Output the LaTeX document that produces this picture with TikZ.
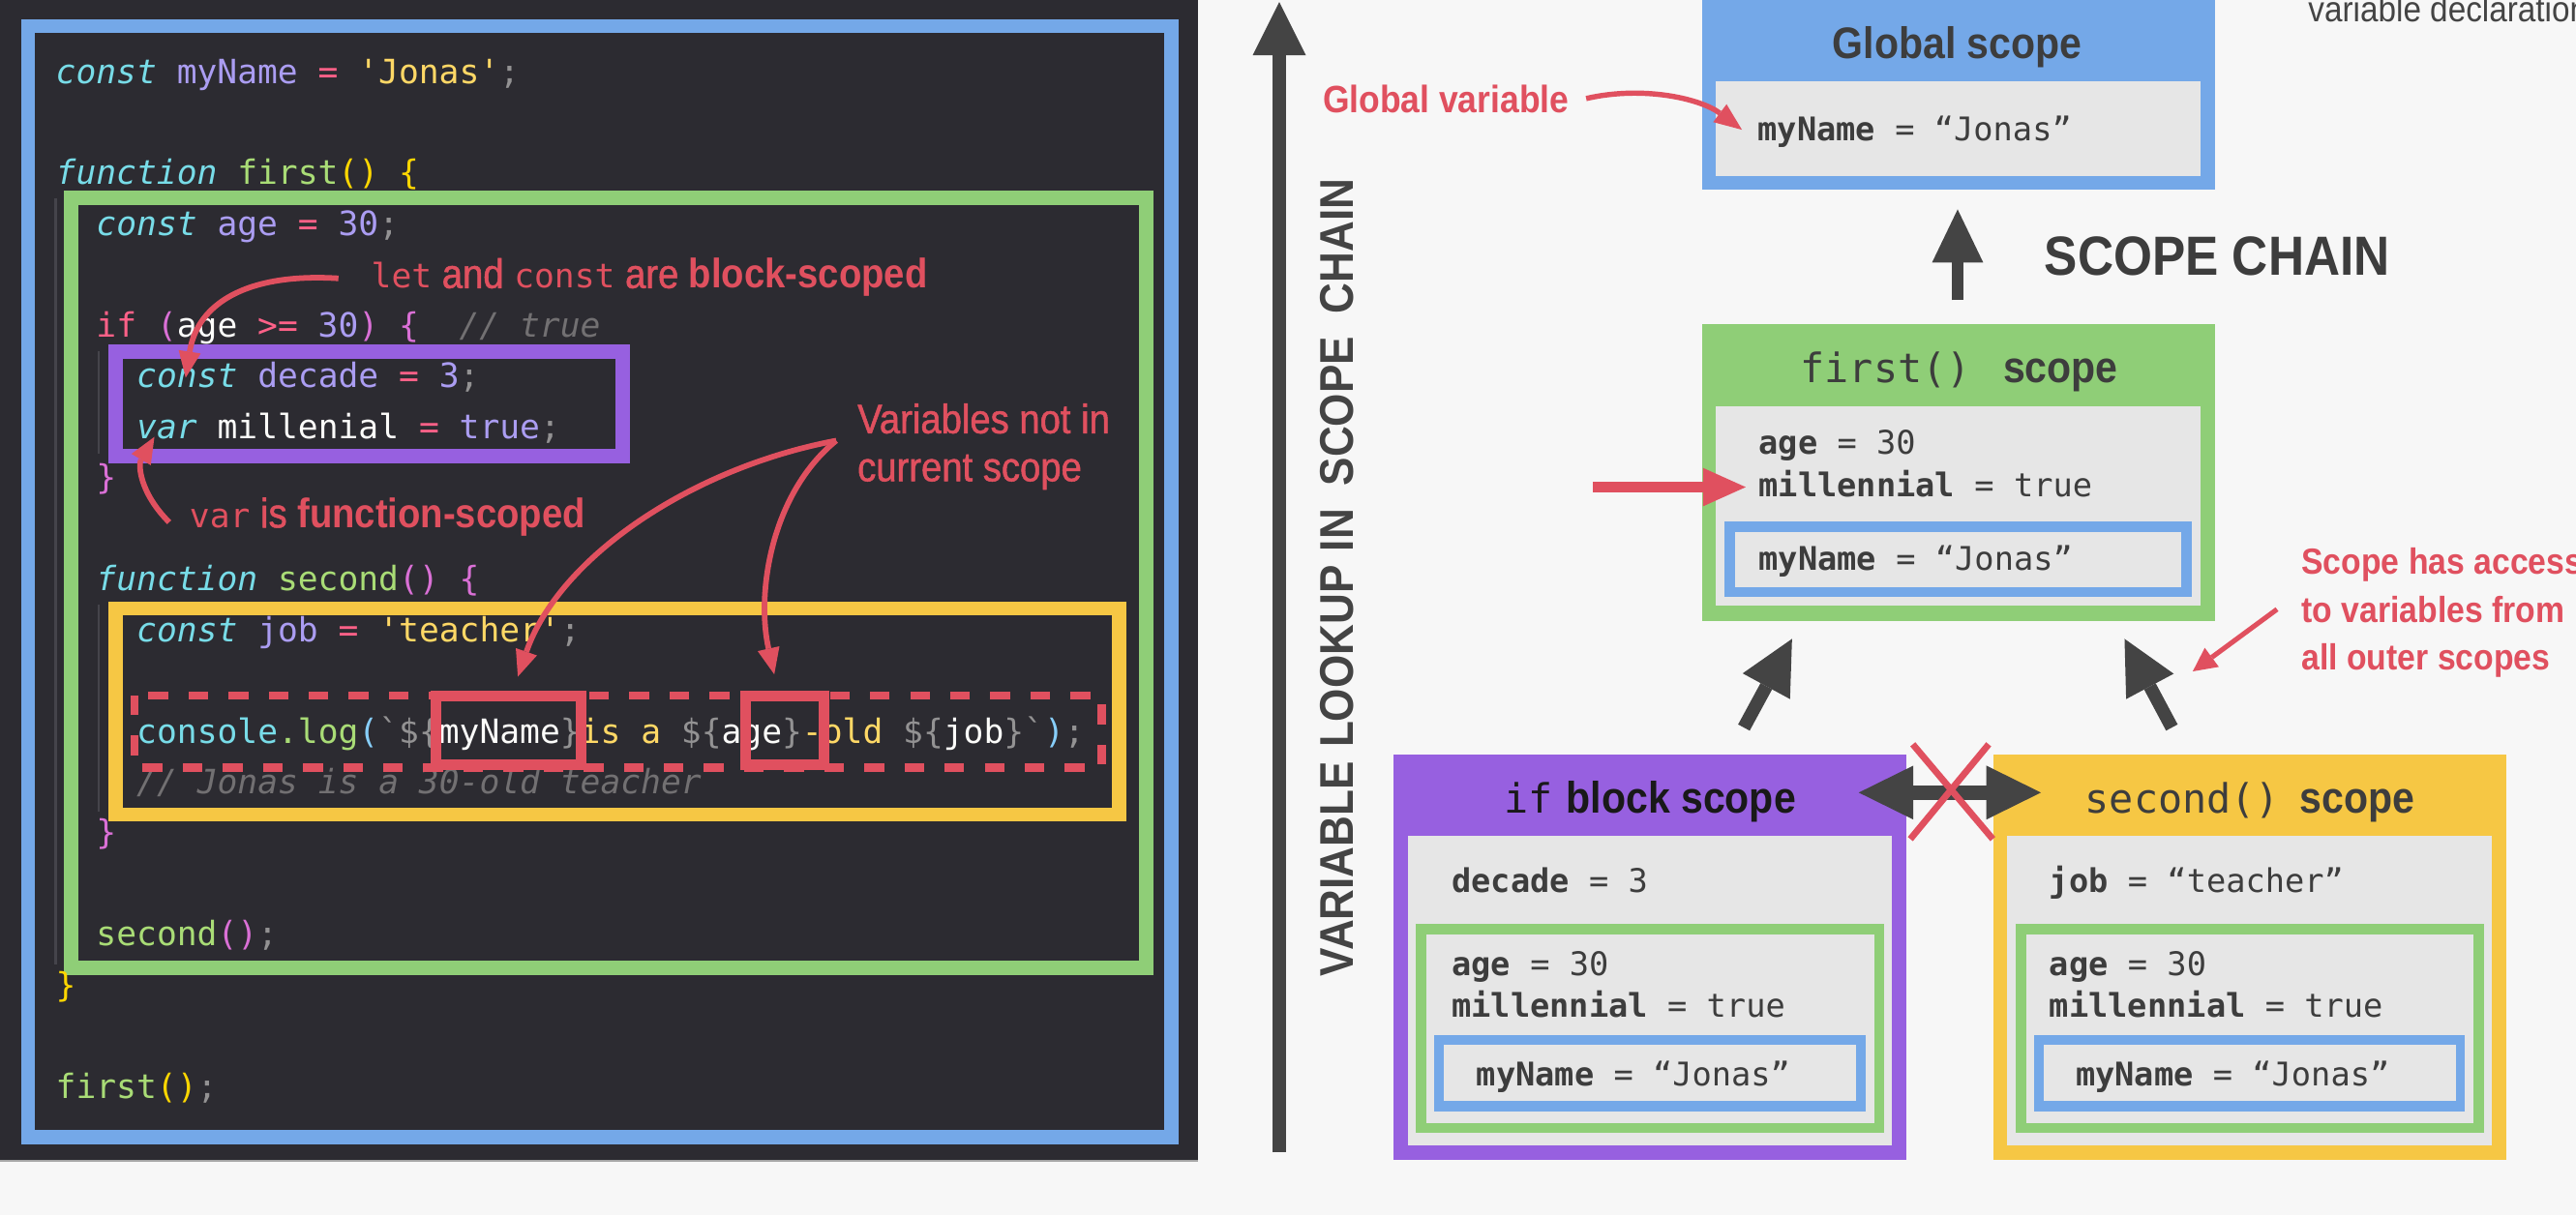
\documentclass[tikz,border=0pt]{standalone}
\usepackage{fontspec}
\setmainfont{Liberation Sans}
\setmonofont{DejaVu Sans Mono}
\newfontfamily\rob[FakeStretch=0.9]{Liberation Sans}
\newfontfamily\robm[FakeStretch=0.9,FakeBold=1.2]{Liberation Sans}
\usetikzlibrary{arrows.meta}
\definecolor{bgdark}{HTML}{2C2B31}
\definecolor{bglight}{HTML}{F7F7F7}
\definecolor{cblue}{HTML}{74A8E8}
\definecolor{cgreen}{HTML}{8FCE77}
\definecolor{cpurple}{HTML}{9760E0}
\definecolor{cyellow}{HTML}{F6C744}
\definecolor{cred}{HTML}{E0505F}
\definecolor{cgray}{HTML}{E6E6E6}
\definecolor{cdark}{HTML}{444444}
\definecolor{chdr}{HTML}{3D3D3D}
\definecolor{guide}{HTML}{45444B}
\definecolor{ckw}{HTML}{78DCE8}
\definecolor{cvr}{HTML}{AB9DF2}
\definecolor{cop}{HTML}{FF6188}
\definecolor{cst}{HTML}{FFD866}
\definecolor{cfn}{HTML}{A9DC76}
\definecolor{cpu}{HTML}{939293}
\definecolor{ccm}{HTML}{727072}
\definecolor{cwh}{HTML}{FCFCFA}
\definecolor{cgold}{HTML}{FFD700}
\definecolor{corc}{HTML}{DA70D6}
\definecolor{csky}{HTML}{87CEFA}
\newcommand\fsz[1]{\fontsize{#1}{#1}\selectfont}
\newcommand\kKw[1]{\textcolor{ckw}{\itshape #1}}
\newcommand\kCy[1]{\textcolor{ckw}{#1}}
\newcommand\kVr[1]{\textcolor{cvr}{#1}}
\newcommand\kOp[1]{\textcolor{cop}{#1}}
\newcommand\kSt[1]{\textcolor{cst}{#1}}
\newcommand\kFn[1]{\textcolor{cfn}{#1}}
\newcommand\kPu[1]{\textcolor{cpu}{#1}}
\newcommand\kCm[1]{\textcolor{ccm}{\itshape #1}}
\newcommand\kWh[1]{\textcolor{cwh}{#1}}
\newcommand\kGo[1]{\textcolor{cgold}{#1}}
\newcommand\kOr[1]{\textcolor{corc}{#1}}
\newcommand\kSk[1]{\textcolor{csky}{#1}}
\newcommand\kMono[1]{{\ttfamily\fsz{14.5pt}#1}}
\newcommand\kBold[1]{{\rob\bfseries #1}}
\begin{document}
\begin{tikzpicture}[x=0.025cm,y=-0.025cm,
  codeline/.style={anchor=base west, inner sep=0pt, outer sep=0pt, font=\ttfamily\fsz{14.5pt}, text=cwh},
  note/.style={anchor=base west, inner sep=0pt, outer sep=0pt, text=cred, font=\robm\fsz{17.8pt}},
  hdr/.style={anchor=base, inner sep=0pt, outer sep=0pt, text=chdr},
  varline/.style={anchor=base west, inner sep=0pt, outer sep=0pt, font=\ttfamily\fsz{14.1pt}, text=chdr},
  redbox/.style={draw=cred, line width=0.165cm},
  dashbox/.style={draw=cred, line width=0.125cm, dash pattern=on 0.3cm off 0.31cm},
  narr/.style={draw=cred, line width=0.085cm, -{Triangle[length=0.4cm,width=0.34cm,line width=0pt]}},
  darr/.style={draw=cdark, line width=0.2cm, -{Triangle[length=0.82cm,width=0.82cm,line width=0pt]}},
  rarr/.style={draw=cred, line width=0.15cm, -{Triangle[length=0.65cm,width=0.585cm,line width=0pt]}}
]
\useasboundingbox (0,0) rectangle (1568,740);
\clip (0,0) rectangle (1568,740);
% backgrounds
\fill[bglight] (0,0) rectangle (1568,740);
\fill[bgdark] (0,0) rectangle (729,707);
\draw[gray!70, line width=0.03cm] (0,707) -- (729,707);
% indent guides
\draw[guide, line width=0.04cm] (33.8,121) -- (33.8,587);
\draw[guide, line width=0.04cm] (60,214) -- (60,276);
\draw[guide, line width=0.04cm] (60,368) -- (60,494);
% code frames
\draw[cblue, line width=0.215cm] (17,16) rectangle (713,692.5);
\draw[cgreen, line width=0.2175cm] (43.3,120.3) rectangle (697.6,589.5);
\draw[cpurple, line width=0.225cm] (70.5,214) rectangle (379,277.7);
\draw[cyellow, line width=0.2175cm] (70.5,370.5) rectangle (681.4,496);
% code
\node[codeline] (c1) at (34,50.7) {\kKw{const} \kVr{myName} \kOp{=} \kSt{'Jonas'}\kPu{;}};
\node[codeline] (c3) at (34,112.5) {\kKw{function} \kFn{first}\kGo{()} \kGo{\{}};
\node[codeline] (c4) at (58.6,143.4) {\kKw{const} \kVr{age} \kOp{=} \kVr{30}\kPu{;}};
\node[codeline] (c6) at (58.6,205.2) {\kOp{if} \kOr{(}\kWh{age} \kOp{>=} \kVr{30}\kOr{)} \kOr{\{}~~\kCm{// true}};
\node[codeline] (c7) at (83.2,236.1) {\kKw{const} \kVr{decade} \kOp{=} \kVr{3}\kPu{;}};
\node[codeline] (c8) at (83.2,267) {\kKw{var} \kWh{millenial} \kOp{=} \kVr{true}\kPu{;}};
\node[codeline] (c9) at (58.6,297.9) {\kOr{\}}};
\node[codeline] (c11) at (58.6,359.7) {\kKw{function} \kFn{second}\kOr{()} \kOr{\{}};
\node[codeline] (c12) at (83.2,390.6) {\kKw{const} \kVr{job} \kOp{=} \kSt{'teacher'}\kPu{;}};
\node[codeline] (c14) at (83.2,452.4) {\kCy{console}\kFn{.log}\kSk{(}\kPu{`\$\{}\kWh{myName}\kPu{\}}\kSt{ is a }\kPu{\$\{}\kWh{age}\kPu{\}}\kSt{-old }\kPu{\$\{}\kWh{job}\kPu{\}`}\kSk{)}\kPu{;}};
\node[codeline] (c15) at (83.2,483.3) {\kCm{// Jonas is a 30-old teacher}};
\node[codeline] (c16) at (58.6,514.2) {\kOr{\}}};
\node[codeline] (c18) at (58.6,576) {\kFn{second}\kOr{()}\kPu{;}};
\node[codeline] (c19) at (34,606.9) {\kGo{\}}};
\node[codeline] (c21) at (34,668.7) {\kFn{first}\kGo{()}\kPu{;}};
% red highlight boxes
\draw[dashbox] (82,423.5) rectangle (670.5,467.5);
\draw[redbox] (265.2,423.6) rectangle (353.5,465.6);
\draw[redbox] (454,423.6) rectangle (501.6,465.6);
% notes (left)
\node[note] (n1) at (226,175.4) {\kMono{let} and \kMono{const} are \kBold{block-scoped}};
\node[note] (n2) at (115.4,321.2) {\kMono{var} is \kBold{function-scoped}};
\node[note] (n3) at (522,263.8) {Variables not in};
\node[note] (n4) at (522,293) {current scope};
\coordinate (a1s) at (206,169.5);
\coordinate (a1e) at (113,230);
\coordinate (a2s) at (103,318);
\coordinate (a2e) at (94,266);
\coordinate (a3s) at (509,268.3);
\coordinate (a3e) at (315.2,412);
\coordinate (a4e) at (471.3,410.6);
\draw[narr] (a1s) .. controls (150,166) and (120,185) .. (a1e);
\draw[narr] (a2s) .. controls (85,300) and (84,283) .. (a2e);
\draw[narr] (a3s) .. controls (420,285) and (340,340) .. (a3e);
\draw[narr] (a3s) .. controls (470,300) and (460,360) .. (a4e);
% ---------- right panel ----------
% lookup arrow and label
\coordinate (lkb) at (778.7,701.6);
\coordinate (lkt) at (778.7,1.3);
\draw[draw=cdark, line width=0.2cm, -{Triangle[length=0.81cm,width=0.81cm,line width=0pt]}] (lkb) -- (lkt);
\node[rotate=90, anchor=base west, inner sep=0pt, outer sep=0pt, text=cdark, font=\rob\bfseries\fsz{20.5pt}] (vt) at (824,594.4) {VARIABLE\hspace{6pt}LOOKUP\hspace{6pt}IN\hspace{10pt}SCOPE\hspace{10pt}CHAIN};
% top-right partial text
\node[anchor=base west, inner sep=0pt, text=cdark, font=\rob\fsz{15.5pt}] (tr) at (1404.8,13.4) {variable declaration};
% global scope
\fill[cblue] (1036,-10) rectangle (1348.5,115.7);
\fill[cgray] (1044.5,49.4) rectangle (1339.5,107.4);
\node[hdr, font=\rob\bfseries\fsz{19.1pt}] (hG) at (1191.4,35.5) {Global scope};
\node[varline] (vG) at (1070,85.5) {\textbf{myName} = “Jonas”};
\node[anchor=base west, inner sep=0pt, text=cred, font=\rob\bfseries\fsz{16.5pt}] (gv) at (805,68.4) {Global variable};
\coordinate (gvs) at (965.5,60);
\coordinate (gve) at (1060.3,79);
\draw[draw=cred, line width=0.08cm, -{Triangle[length=0.42cm,width=0.34cm,line width=0pt]}] (gvs) .. controls (1000,52) and (1035,60) .. (gve);
% scope chain arrow
\coordinate (scb) at (1191.6,182.8);
\coordinate (sct) at (1191.6,127.5);
\draw[draw=cdark, line width=0.19cm, -{Triangle[length=0.81cm,width=0.78cm,line width=0pt]}] (scb) -- (sct);
\node[anchor=base west, inner sep=0pt, text=chdr, font=\rob\bfseries\fsz{23.9pt}] (sc) at (1244.3,167.8) {SCOPE CHAIN};
% first() scope
\fill[cgreen] (1036,197.2) rectangle (1348.5,377.9);
\fill[cgray] (1044.5,247.2) rectangle (1339.5,368.9);
\fill[cblue] (1049.8,317.7) rectangle (1334,363.7);
\fill[cgray] (1056.2,324) rectangle (1327.6,357.4);
\node[hdr] (hF) at (1192.6,232.7) {{\ttfamily\fsz{17.5pt}first()}\hspace{14pt}{\rob\bfseries\fsz{19.1pt}scope}};
\node[varline] (vF1) at (1070.6,276.5) {\textbf{age} = 30};
\node[varline] (vF2) at (1070.6,302.4) {\textbf{millennial} = true};
\node[varline] (vF3) at (1070.6,347.1) {\textbf{myName} = “Jonas”};
\coordinate (ras) at (969.6,296.6);
\coordinate (rae) at (1062.6,296.6);
\draw[rarr] (ras) -- (rae);
% access note
\node[anchor=base west, inner sep=0pt, text=cred, font=\rob\bfseries\fsz{15.7pt}] (sa1) at (1400.7,349.7) {Scope has access};
\node[anchor=base west, inner sep=0pt, text=cred, font=\rob\bfseries\fsz{15.7pt}] (sa2) at (1400.7,379.2) {to variables from};
\node[anchor=base west, inner sep=0pt, text=cred, font=\rob\bfseries\fsz{15.7pt}] (sa3) at (1400.7,408.1) {all outer scopes};
\coordinate (sas) at (1386,371);
\coordinate (sae) at (1334.7,408.8);
\draw[draw=cred, line width=0.075cm, -{Triangle[length=0.36cm,width=0.36cm,line width=0pt]}] (sas) -- (sae);
% up arrows
\coordinate (lus) at (1061.5,443);
\coordinate (lue) at (1090.8,389);
\coordinate (rus) at (1322,443);
\coordinate (rue) at (1293.2,389);
\draw[darr] (lus) -- (lue);
\draw[darr] (rus) -- (rue);
% if block scope
\fill[cpurple] (848.4,459.5) rectangle (1160.4,706);
\fill[cgray] (857,509) rectangle (1151.8,697.4);
\fill[cgreen] (861.8,562.7) rectangle (1147,690);
\fill[cgray] (868.2,569) rectangle (1140.8,683.7);
\fill[cblue] (873,630.2) rectangle (1135.8,676.6);
\fill[cgray] (878.7,636.4) rectangle (1130,670.3);
\node[hdr, text=black!90] (hI) at (1004.5,494.8) {{\ttfamily\fsz{17.5pt}if}\hspace{5.7pt}{\rob\bfseries\fsz{19.1pt}block scope}};
\node[varline] (vI1) at (883.7,543.5) {\textbf{decade} = 3};
\node[varline] (vI2) at (883.7,594) {\textbf{age} = 30};
\node[varline] (vI3) at (883.7,619.1) {\textbf{millennial} = true};
\node[varline] (vI4) at (898.7,660.9) {\textbf{myName} = “Jonas”};
% second() scope
\fill[cyellow] (1213.3,459.5) rectangle (1525.8,706);
\fill[cgray] (1221.8,509) rectangle (1516.7,697.4);
\fill[cgreen] (1227.2,562.7) rectangle (1511.9,690);
\fill[cgray] (1233.6,569) rectangle (1505.5,683.7);
\fill[cblue] (1238.4,630.2) rectangle (1500.2,676.6);
\fill[cgray] (1244,636.4) rectangle (1494.7,670.3);
\node[hdr] (hS) at (1369.5,494.8) {{\ttfamily\fsz{17.5pt}second()}\hspace{8.7pt}{\rob\bfseries\fsz{19.1pt}scope}};
\node[varline] (vS1) at (1247.5,543.5) {\textbf{job} = “teacher”};
\node[varline] (vS2) at (1247.5,594) {\textbf{age} = 30};
\node[varline] (vS3) at (1247.5,619.1) {\textbf{millennial} = true};
\node[varline] (vS4) at (1263.5,660.9) {\textbf{myName} = “Jonas”};
% double arrow with cross
\coordinate (dal) at (1131.4,482.6);
\coordinate (dar) at (1242.3,482.6);
\draw[draw=cdark, line width=0.22cm, {Triangle[length=0.83cm,width=0.82cm,line width=0pt]}-{Triangle[length=0.83cm,width=0.82cm,line width=0pt]}] (dal) -- (dar);
\coordinate (x1a) at (1164.3,453.2);
\coordinate (x1b) at (1213,510.9);
\coordinate (x2a) at (1210.5,453.2);
\coordinate (x2b) at (1162.8,510.9);
\draw[cred, line width=0.1cm] (x1a) -- (x1b);
\draw[cred, line width=0.1cm] (x2a) -- (x2b);
\end{tikzpicture}
\end{document}
